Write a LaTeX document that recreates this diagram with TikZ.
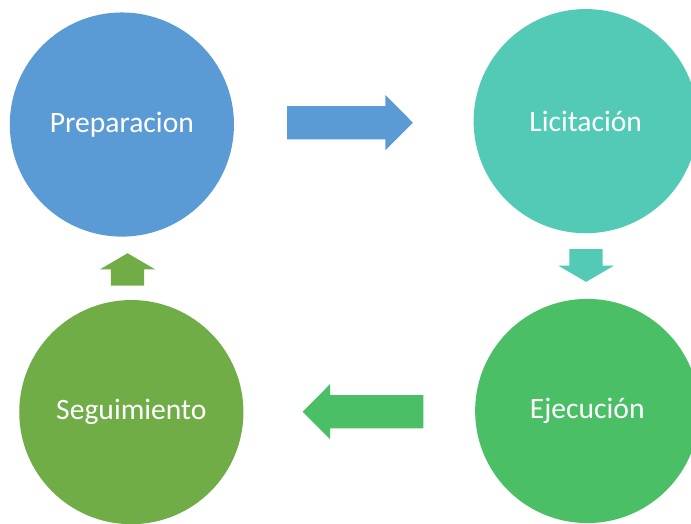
\documentclass[tikz,border=0pt]{standalone}
\usepackage{fontspec}
\setmainfont{Carlito}
\definecolor{azul}{RGB}{91,155,213}
\definecolor{turquesa}{RGB}{83,202,182}
\definecolor{verde}{RGB}{74,191,102}
\definecolor{oliva}{RGB}{112,173,71}

\begin{document}
\begin{tikzpicture}[etapa/.style={circle,minimum size=5.94cm,inner sep=0pt,text=white,font=\fontsize{22.3}{27}\selectfont}]

\newcommand{\flechader}[4]{% color, x inicio, y inicio, largo
\fill[#1] (#2,#3+0.44) -- (#2+#4-0.73,#3+0.44) -- (#2+#4-0.73,#3+0.735) -- (#2+#4,#3) -- (#2+#4-0.73,#3-0.735) -- (#2+#4-0.73,#3-0.44) -- (#2,#3-0.44) -- cycle;
}
\newcommand{\flechaizq}[4]{% color, x inicio, y inicio, largo
\fill[#1] (#2,#3+0.44) -- (#2-#4+0.73,#3+0.44) -- (#2-#4+0.73,#3+0.735) -- (#2-#4,#3) -- (#2-#4+0.73,#3-0.735) -- (#2-#4+0.73,#3-0.44) -- (#2,#3-0.44) -- cycle;
}
\newcommand{\flechaarriba}[4]{% color, x inicio, y inicio, largo
\fill[#1] (#2+0.44,#3) -- (#2+0.44,#3+#4-0.43) -- (#2+0.735,#3+#4-0.43) -- (#2,#3+#4) -- (#2-0.735,#3+#4-0.43) -- (#2-0.44,#3+#4-0.43) -- (#2-0.44,#3) -- cycle;
}
\newcommand{\flechaabajo}[4]{% color, x inicio, y inicio, largo
\fill[#1] (#2+0.44,#3) -- (#2+0.44,#3-#4+0.43) -- (#2+0.735,#3-#4+0.43) -- (#2,#3-#4) -- (#2-0.735,#3-#4+0.43) -- (#2-0.44,#3-#4+0.43) -- (#2-0.44,#3) -- cycle;
}

\useasboundingbox (0,0) rectangle (18.31,-13.86);

%etapas
\node[etapa,fill=azul] (prep) at (3.23,-3.30) {Preparacion};
\node[etapa,fill=turquesa] (licit) at (15.52,-3.21) {Licitación};
\node[etapa,fill=verde] (ejec) at (15.56,-10.89) {Ejecución};
\node[etapa,fill=oliva] (segu) at (3.48,-10.92) {Seguimiento};

%preparacion->licitacion
\flechader{azul}{7.61}{-3.25}{3.33}
%licitacion->ejecucion
\flechaabajo{turquesa}{15.53}{-6.60}{0.87}
%ejecucion->seguimiento
\flechaizq{verde}{11.22}{-10.91}{3.20}
%seguimiento->preparacion
\flechaarriba{oliva}{3.38}{-7.57}{0.86}

\end{tikzpicture}
\end{document}
